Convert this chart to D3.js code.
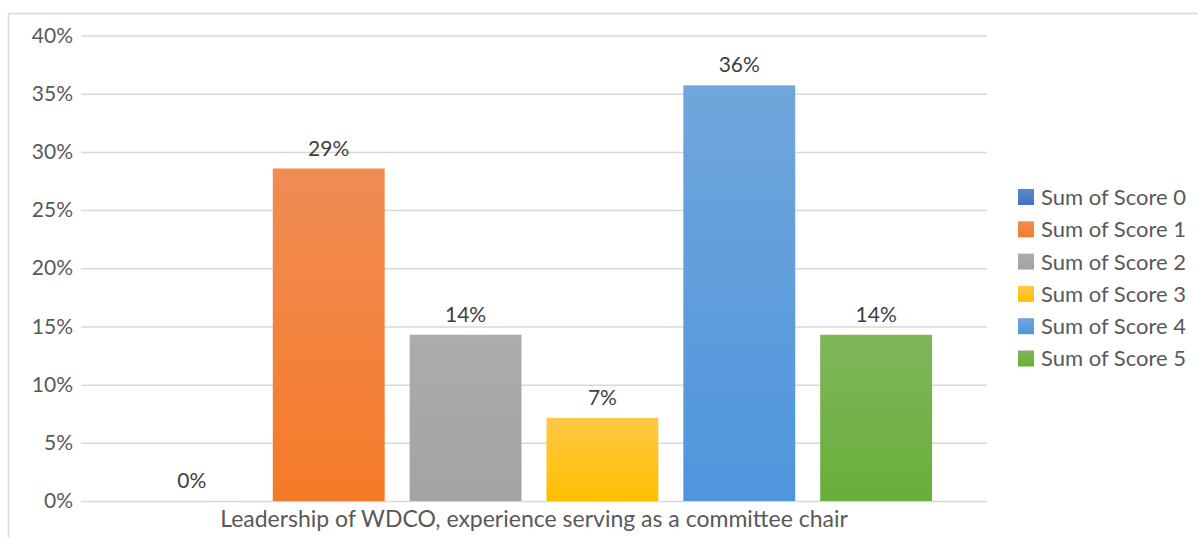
<!DOCTYPE html>
<html>
<head>
<meta charset="utf-8">
<script src="https://cdn.jsdelivr.net/npm/d3@7"></script>
<style>
  html, body { margin: 0; padding: 0; background: #fff; }
  svg { display: block; }
  text { font-family: Lato, "Open Sans", sans-serif; }
</style>
</head>
<body>
<svg id="chart" width="1198" height="537"></svg>
<script>
// Share of responses per score for one survey item
const category = "Leadership of WDCO, experience serving as a committee chair";
const seriesNames = ["Sum of Score 0", "Sum of Score 1", "Sum of Score 2", "Sum of Score 3", "Sum of Score 4", "Sum of Score 5"];
const seriesValues = [0, 4 / 14, 2 / 14, 1 / 14, 5 / 14, 2 / 14];
const seriesTop = ["#5B86CF", "#F08C55", "#ACACAC", "#FFC847", "#70A6DB", "#7EB65A"];
const seriesBottom = ["#4472C4", "#F57A27", "#A3A3A3", "#FFBF00", "#4F95DD", "#6AAE3B"];
const yTicks = [0, 0.05, 0.10, 0.15, 0.20, 0.25, 0.30, 0.35, 0.40];

const svg = d3.select("#chart");
const plot = { left: 81, right: 987, top: 35.5, bottom: 501 };

// chart frame
svg.append("rect")
  .attr("x", 8.5).attr("y", 13.5)
  .attr("width", 1300).attr("height", 600)
  .attr("fill", "none").attr("stroke", "#D9D9D9").attr("stroke-width", 1.5);

const y = d3.scaleLinear().domain([0, 0.40]).range([plot.bottom, plot.top]);

const x0 = d3.scaleBand().domain([category]).range([plot.left, plot.right])
  .paddingOuter(0.069);
const x1 = d3.scaleBand().domain(seriesNames).range([0, x0.bandwidth()])
  .paddingInner(0.1825).paddingOuter(0);

// gradients
const defs = svg.append("defs");
seriesNames.forEach((s, i) => {
  const g = defs.append("linearGradient").attr("id", "grad" + i)
    .attr("x1", 0).attr("y1", 0).attr("x2", 0).attr("y2", 1);
  g.append("stop").attr("offset", "0%").attr("stop-color", seriesTop[i]);
  g.append("stop").attr("offset", "100%").attr("stop-color", seriesBottom[i]);
});

// gridlines + y axis labels
const yAxis = d3.axisLeft(y).tickValues(yTicks)
  .tickFormat(d3.format(".0%"))
  .tickSize(-(plot.right - plot.left)).tickPadding(8);
const ga = svg.append("g").attr("transform", `translate(${plot.left},0)`).call(yAxis);
ga.select(".domain").remove();
ga.selectAll(".tick line").attr("stroke", "#D9D9D9").attr("stroke-width", 1.5);
ga.selectAll(".tick text").attr("fill", "#595959").style("font-size", "21px");

// bars
const group = svg.append("g").attr("transform", `translate(${x0(category)},0)`);
group.selectAll("rect.bar").data(seriesNames).join("rect")
  .attr("class", "bar")
  .attr("x", d => x1(d))
  .attr("width", x1.bandwidth())
  .attr("y", (d, i) => y(seriesValues[i]))
  .attr("height", (d, i) => y(0) - y(seriesValues[i]))
  .attr("fill", (d, i) => `url(#grad${i})`);

// value labels
group.selectAll("text.val").data(seriesNames).join("text")
  .attr("class", "val")
  .attr("x", d => x1(d) + x1.bandwidth() / 2)
  .attr("y", (d, i) => y(seriesValues[i]) - 13)
  .attr("text-anchor", "middle")
  .attr("fill", "#404040")
  .style("font-size", "21px")
  .text((d, i) => d3.format(".0%")(seriesValues[i]));

// category label
svg.append("text")
  .attr("x", x0(category) + x0.bandwidth() / 2)
  .attr("y", 527)
  .attr("text-anchor", "middle")
  .attr("fill", "#595959")
  .style("font-size", "23px")
  .text(category);

// legend
const legend = svg.append("g").attr("transform", "translate(1018,197)");
const rows = legend.selectAll("g").data(seriesNames).join("g")
  .attr("transform", (d, i) => `translate(0,${i * 32.3})`);
rows.append("rect")
  .attr("x", 0).attr("y", -8).attr("width", 16).attr("height", 16)
  .attr("fill", (d, i) => `url(#grad${i})`);
rows.append("text")
  .attr("x", 23).attr("y", 0).attr("dy", "0.36em")
  .attr("fill", "#595959")
  .style("font-size", "22px")
  .text(d => d);
</script>
</body>
</html>
